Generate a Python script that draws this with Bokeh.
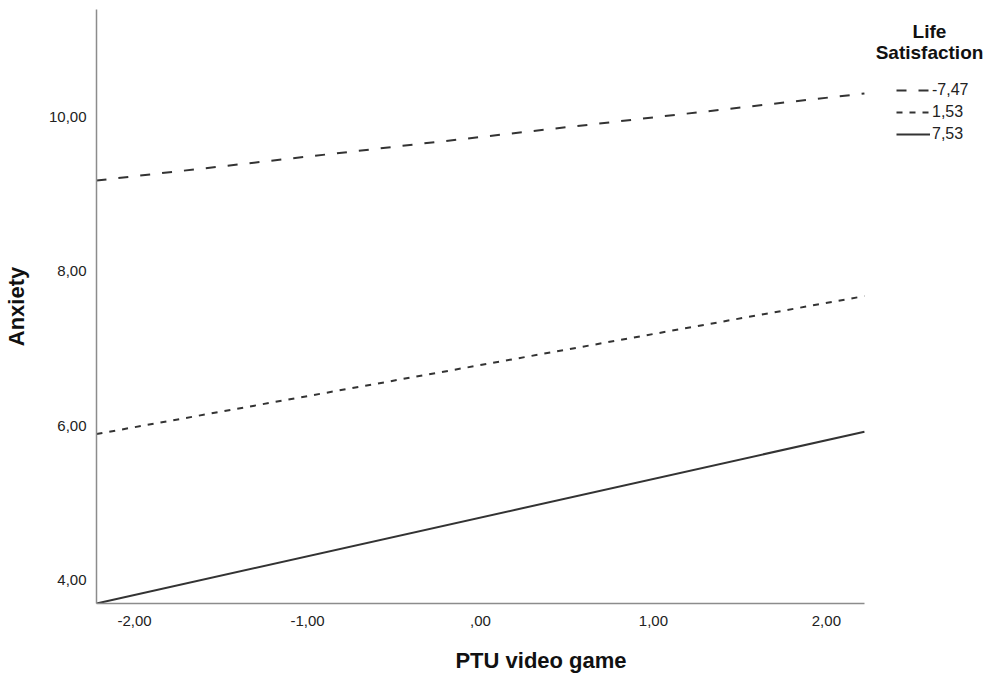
from bokeh.plotting import figure
from bokeh.models import Legend, LegendItem, Range1d, FixedTicker, CustomJSTickFormatter, Label
from bokeh.embed import file_html
from bokeh.resources import INLINE

# Data
ptu_x = [-2.22, 2.22]
groups = ["-7,47", "1,53", "7,53"]
anxiety_low = [9.18, 10.31]    # Life Satisfaction -7,47
anxiety_mid = [5.89, 7.68]     # Life Satisfaction 1,53
anxiety_high = [3.69, 5.92]    # Life Satisfaction 7,53
x_ticks = [-2, -1, 0, 1, 2]
y_ticks = [4, 6, 8, 10]
legend_title = ["Life", "Satisfaction"]

FONT = "Liberation Sans"

# frame extends to the right edge so the legend (drawn inside the frame) is not clipped;
# the x axis line itself is bounded to the data span
p = figure(width=985, height=675, output_backend="svg", toolbar_location=None,
           x_range=Range1d(-2.22, 2.92), y_range=Range1d(3.69, 11.40),
           min_border_left=88, min_border_top=9, min_border_bottom=72, min_border_right=0)
p.outline_line_color = None
p.grid.visible = False

dashes = ["10 12", "6 7", "solid"]
series = [anxiety_low, anxiety_mid, anxiety_high]
renderers = []
for ys, d in zip(series, dashes):
    r = p.line(ptu_x, ys, line_color="#333333", line_width=2, line_dash=d)
    renderers.append(r)

fmt = CustomJSTickFormatter(code="""
let s = Math.abs(tick) < 1e-9 ? '' : (tick < 0 ? '-' : '') + Math.floor(Math.abs(tick)).toString();
return s + ',00';
""")

for ax in (p.xaxis[0], p.yaxis[0]):
    ax.axis_line_color = "#8c8c8c"
    ax.axis_line_width = 1.5
    ax.major_tick_line_color = None
    ax.minor_tick_line_color = None
    ax.major_label_text_font = FONT
    ax.major_label_text_font_size = "15px"
    ax.major_label_text_color = "#222222"
    ax.axis_label_text_font = FONT
    ax.axis_label_text_font_size = "22px"
    ax.axis_label_text_font_style = "bold"
    ax.axis_label_text_color = "#111111"
    ax.formatter = fmt

p.xaxis.ticker = FixedTicker(ticks=x_ticks)
p.yaxis.ticker = FixedTicker(ticks=y_ticks)
p.xaxis.bounds = (ptu_x[0], ptu_x[-1])
p.xaxis.axis_label = "PTU video game"
p.yaxis.axis_label = "Anxiety"
p.xaxis.major_label_standoff = 6
p.xaxis.axis_label_standoff = 19
p.yaxis.major_label_standoff = 4
p.yaxis.axis_label_standoff = 17

legend = Legend(items=[LegendItem(label=g, renderers=[r]) for g, r in zip(groups, renderers)],
                location=(800, 459))
legend.label_text_font = FONT
legend.label_text_font_size = "16px"
legend.label_text_color = "#222222"
legend.glyph_width = 34
legend.glyph_height = 20
legend.label_height = 20
legend.label_standoff = 2
legend.spacing = 2
legend.border_line_color = None
legend.background_fill_alpha = 0
legend.margin = 0
legend.padding = 0
p.add_layout(legend, "center")

for txt, yy in zip(legend_title, [572, 551]):
    p.add_layout(Label(x=833, y=yy, x_units="screen", y_units="screen", text=txt,
                       text_align="center", text_baseline="middle",
                       text_font=FONT, text_font_size="19px", text_font_style="bold",
                       text_color="#111111"))

open("out.html", "w").write(file_html(p, INLINE))
